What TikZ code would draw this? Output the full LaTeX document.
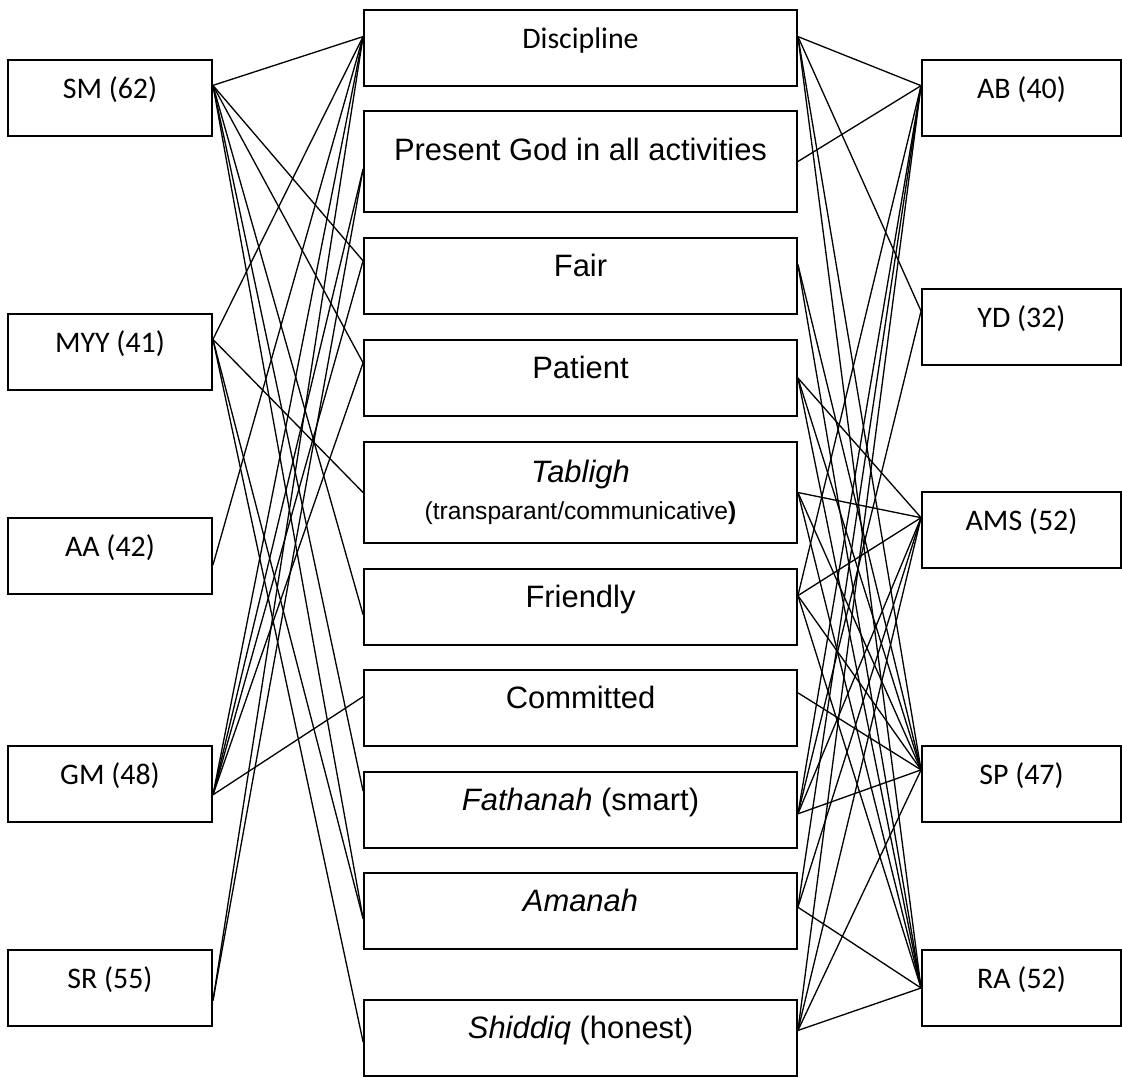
\documentclass[tikz,border=0pt]{standalone}
\usepackage{fontspec}
\setmainfont{Liberation Sans}
\newfontfamily\calibri{Carlito}
\usepackage{tikz}

\begin{document}
\begin{tikzpicture}[x=0.02cm,y=-0.02cm]
      \tikzstyle{person}=[rectangle,draw=black,line width=1.1pt,minimum width=4.08cm,inner sep=0pt,text height=0.76cm,text depth=0.76cm,font=\calibri\fontsize{17}{20}\selectfont]
      \tikzstyle{value}=[rectangle,draw=black,line width=1.1pt,minimum width=8.66cm,inner sep=0pt,text height=0.76cm,text depth=0.76cm,font=\fontsize{17.6}{21}\selectfont]
      \tikzstyle{link}=[line width=0.75pt]
      \useasboundingbox (0,0) rectangle (1122,1076);
      % left column
      \node[person] (sm) at (110,98) {SM (62)};
      \node[person] (myy) at (110,352) {MYY (41)};
      \node[person] (aa) at (110,556) {AA (42)};
      \node[person] (gm) at (110,784) {GM (48)};
      \node[person] (sr) at (110,988) {SR (55)};
      % middle column
      \node[value,font=\calibri\fontsize{17}{20}\selectfont] (disc) at (580.5,48) {Discipline};
      \node[value,text height=0.98cm,text depth=1.04cm] (god) at (580.5,161.5) {Present God in all activities};
      \node[value] (fair) at (580.5,276) {Fair};
      \node[value] (patient) at (580.5,378) {Patient};
      \node[rectangle,draw=black,line width=1.1pt,minimum width=8.66cm,minimum height=2.02cm,inner sep=0pt,align=center,font=\fontsize{17.6}{21}\selectfont] (tabligh) at (580.5,492.5) {\textit{Tabligh}\\{\fontsize{14}{17}\selectfont (transparant/communicative\textbf{)}}};
      \node[value] (friendly) at (580.5,607) {Friendly};
      \node[value] (committed) at (580.5,708) {Committed};
      \node[value] (fathanah) at (580.5,810) {\textit{Fathanah} (smart)};
      \node[value] (amanah) at (580.5,911) {\textit{Amanah}};
      \node[value] (shiddiq) at (580.5,1038) {\textit{Shiddiq} (honest)};
      % right column
      \node[person,minimum width=3.98cm] (ab) at (1021.5,98) {AB (40)};
      \node[person,minimum width=3.98cm] (yd) at (1021.5,327) {YD (32)};
      \node[person,minimum width=3.98cm] (ams) at (1021.5,530) {AMS (52)};
      \node[person,minimum width=3.98cm] (sp) at (1021.5,784) {SP (47)};
      \node[person,minimum width=3.98cm] (ra) at (1021.5,988) {RA (52)};
      % left links
      \draw[link] (sm.7) -- (disc.177);
      \draw[link] (sm.7) -- (fair.176);
      \draw[link] (sm.7) -- (patient.176);
      \draw[link] (sm.7) -- (friendly.182);
      \draw[link] (sm.7) -- (fathanah.175);
      \draw[link] (sm.7) -- (amanah.182);
      \draw[link] (myy.7) -- (disc.177);
      \draw[link] (myy.7) -- (tabligh.west);
      \draw[link] (myy.7) -- (amanah.182);
      \draw[link] (myy.7) -- (shiddiq.181);
      \draw[link] (aa.-5) -- (disc.177);
      \draw[link] (gm.-6) -- (disc.177);
      \draw[link] (gm.-6) -- (god.182);
      \draw[link] (gm.-6) -- (fair.176);
      \draw[link] (gm.-6) -- (patient.176);
      \draw[link] (gm.-6) -- (committed.177);
      \draw[link] (sr.-7) -- (disc.177);
      \draw[link] (sr.-7) -- (god.182);
      % right links
      \draw[link] (disc.3) -- (ab.173);
      \draw[link] (disc.3) -- (yd.171);
      \draw[link] (disc.3) -- (sp.172);
      \draw[link] (disc.3) -- (ra.west);
      \draw[link] (god.east) -- (ab.173);
      \draw[link] (fair.3) -- (sp.172);
      \draw[link] (fair.3) -- (ra.west);
      \draw[link] (patient.east) -- (ams.173);
      \draw[link] (patient.east) -- (sp.172);
      \draw[link] (patient.east) -- (ra.west);
      \draw[link] (tabligh.east) -- (ams.173);
      \draw[link] (tabligh.east) -- (sp.172);
      \draw[link] (tabligh.east) -- (ra.west);
      \draw[link] (friendly.3) -- (ab.173);
      \draw[link] (friendly.3) -- (ams.173);
      \draw[link] (friendly.3) -- (sp.172);
      \draw[link] (friendly.3) -- (ra.west);
      \draw[link] (committed.4) -- (sp.172);
      \draw[link] (fathanah.-1) -- (ab.173);
      \draw[link] (fathanah.-1) -- (yd.171);
      \draw[link] (fathanah.-1) -- (ams.173);
      \draw[link] (fathanah.-1) -- (sp.172);
      \draw[link] (amanah.1) -- (ab.173);
      \draw[link] (amanah.1) -- (ams.173);
      \draw[link] (amanah.1) -- (ra.west);
      \draw[link] (shiddiq.2) -- (ab.173);
      \draw[link] (shiddiq.2) -- (ams.173);
      \draw[link] (shiddiq.2) -- (sp.172);
      \draw[link] (shiddiq.2) -- (ra.west);
\end{tikzpicture}
\end{document}
